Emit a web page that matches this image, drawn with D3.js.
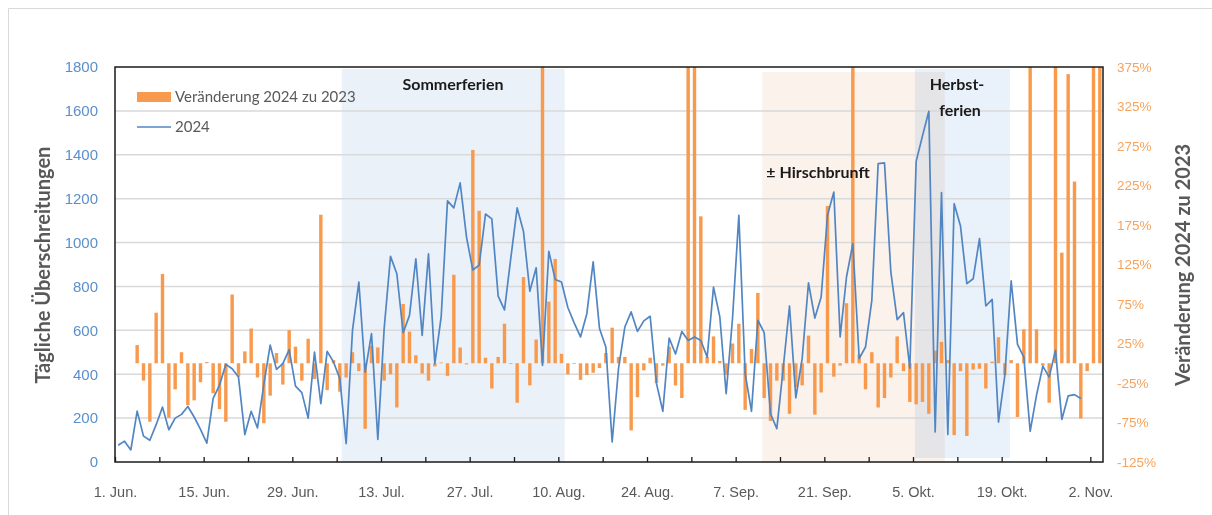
<!DOCTYPE html>
<html>
<head>
<meta charset="utf-8">
<script src="https://cdn.jsdelivr.net/npm/d3@7"></script>
<style>
  body { margin: 0; background: #fff; }
  svg { font-family: Lato, "Open Sans", "Liberation Sans", sans-serif; }
</style>
</head>
<body>
<svg id="chart" width="1212" height="515"></svg>
<script>
// daily values, 1 Jun 2024 onwards (one entry per day)
const startDay = new Date(2024, 5, 1);
const count2024 = [76, 95, 55, 232, 118, 99, 170, 250, 147, 200, 217, 253, 205, 149, 86, 290, 350, 445, 425, 387,
  125, 231, 155, 354, 533, 422, 448, 512, 346, 316, 200, 501, 266, 504, 456, 380, 84, 600, 820, 410,
  585, 103, 608, 937, 858, 589, 668, 926, 577, 949, 448, 661, 1190, 1158, 1272, 1025, 875, 897, 1130, 1108,
  756, 693, 930, 1158, 1050, 778, 885, 440, 960, 832, 820, 704, 634, 570, 676, 912, 608, 524, 91, 425,
  615, 684, 595, 643, 664, 357, 231, 565, 492, 595, 554, 570, 554, 478, 797, 661, 311, 653, 1124, 403,
  231, 646, 590, 220, 152, 425, 711, 292, 471, 816, 656, 752, 1124, 1230, 570, 843, 995, 471, 524, 737,
  1360, 1363, 866, 649, 681, 428, 1370, 1486, 1598, 137, 1228, 125, 1177, 1075, 813, 835, 1018, 711, 741, 182,
  395, 825, 536, 478, 140, 304, 437, 387, 509, 194, 301, 307, 289, null, null, null];

// change 2024 vs 2023 in percent
const change = [null, null, null, 23, -22, -74, 64, 113, -69, -33, 14, -53, -47, -24, 1.5, -38, -58, -74, 87, -17,
  15, 44, -18, -76, -41, 13, -27, 42, 21, -22, 31, -20, 188, -34, 4, -36, -18, 14, -10, -83,
  22, 20, -22, -14, -56, 75, 40, 10, -13, -22, -4, 1, -16, 112, 20, -1.5, 270, 193, 7, -32,
  8, 50, -1, -50, 109, -28, 30, 450, 78, 132, 12, -14, -1, -21, -15, -12, -6, 13, 45, 8,
  8, -85, -43, -9, 7, -25, -3, 21, -28, -44, 500, 480, 186, 8, 34, 3, -15, 25, 50, -59,
  18, 89, -44, -73, -22, -22, -64, -30, -28, 35, -65, -37, 199, -17, -3, 76, 420, 11, -33, 14,
  -56, -44, -18, 34, -10, -49, -52, -49, -64, 16, 27, 4, -91, -10, -92, -8, -7, -32, 2, 33,
  -15, 4, -68, 43, 600, 43, -3, -50, 500, 140, 366, 230, -70, -10, 450, 550];

const leftTicks = [0, 200, 400, 600, 800, 1000, 1200, 1400, 1600, 1800];
const rightTicks = [-125, -75, -25, 25, 75, 125, 175, 225, 275, 325, 375];
const monthNames = ["Jan.", "Feb.", "Mär.", "Apr.", "Mai", "Jun.", "Jul.", "Aug.", "Sep.", "Okt.", "Nov.", "Dez."];

// shaded periods: [start day, end day) as day offsets from 1 Jun
const periods = [
  {name: "Sommerferien", from: 35.8, to: 71.0, color: "#eaf1f9"},
  {name: "Hirschbrunft", from: 102.2, to: 131.0, color: "#fbf2ec"},
  {name: "Herbstferien", from: 126.3, to: 141.3, color: "#e9f1fa"}
];

const days = d3.timeDay.range(startDay, d3.timeDay.offset(startDay, count2024.length));
const data = days.map((d, i) => ({date: d, v: count2024[i], p: change[i]}));

const margin = {left: 115, right: 109, top: 67, bottom: 53};
const W = 1212, H = 515;
const svg = d3.select("#chart");

// chart area border (left and top edge visible)
svg.append("path").attr("d", `M8.5,${H}V8.5H${W}`)
  .attr("fill", "none").attr("stroke", "#d9d9d9");

const x = d3.scaleTime()
  .domain([startDay, d3.timeDay.offset(startDay, days.length)])
  .range([margin.left, W - margin.right]);
const dayW = x(d3.timeDay.offset(startDay, 1)) - x(startDay);
const cx = d => x(d) + dayW / 2;
const dayX = n => x(startDay) + n * dayW;

const yL = d3.scaleLinear().domain([0, 1800]).range([H - margin.bottom, margin.top]);
const yR = d3.scaleLinear().domain([-125, 375]).range([H - margin.bottom, margin.top]);

svg.append("clipPath").attr("id", "plotclip").append("rect")
  .attr("x", margin.left).attr("y", margin.top)
  .attr("width", W - margin.left - margin.right).attr("height", H - margin.top - margin.bottom);

// shaded periods
const shade = svg.append("g");
periods.forEach((p, i) => {
  const top = i === 1 ? 72 : 69;
  const bottom = i === 2 ? 458 : H - margin.bottom;
  shade.append("rect")
    .attr("x", dayX(p.from)).attr("width", dayX(p.to) - dayX(p.from))
    .attr("y", top).attr("height", bottom - top)
    .attr("fill", p.color)
    .style("mix-blend-mode", "multiply");
});

// gridlines
svg.append("g").selectAll("line").data(leftTicks.slice(1, -1)).join("line")
  .attr("x1", margin.left).attr("x2", W - margin.right)
  .attr("y1", d => yL(d)).attr("y2", d => yL(d))
  .attr("stroke", "#d9d9d9").attr("stroke-width", 1.5);

// bars
svg.append("g").attr("clip-path", "url(#plotclip)")
  .selectAll("rect").data(data.filter(d => d.p !== null)).join("rect")
  .attr("x", d => cx(d.date) - dayW * 0.27)
  .attr("width", dayW * 0.54)
  .attr("y", d => Math.min(yR(d.p), yR(0)))
  .attr("height", d => Math.abs(yR(d.p) - yR(0)))
  .attr("fill", "#f79a4e");

// line
const line = d3.line()
  .defined(d => d.v !== null)
  .x(d => cx(d.date))
  .y(d => yL(d.v));
svg.append("path").datum(data)
  .attr("d", line)
  .attr("fill", "none")
  .attr("stroke", "#5286c3")
  .attr("stroke-width", 1.7)
  .attr("stroke-linejoin", "round");

// plot frame
svg.append("rect")
  .attr("x", margin.left).attr("y", margin.top)
  .attr("width", W - margin.left - margin.right).attr("height", H - margin.top - margin.bottom)
  .attr("fill", "none").attr("stroke", "#1a1a1a").attr("stroke-width", 1.5);

// x axis
const xAxis = d3.axisBottom(x)
  .tickValues(d3.timeDay.range(startDay, d3.timeDay.offset(startDay, days.length), 7))
  .tickSize(-5)
  .tickFormat((d, i) => i % 2 === 0 ? d.getDate() + ". " + monthNames[d.getMonth()] : "");
const gx = svg.append("g").attr("transform", `translate(0,${H - margin.bottom})`).call(xAxis);
gx.select(".domain").remove();
gx.selectAll(".tick line").attr("stroke", "#1a1a1a").attr("stroke-width", 1.3);
gx.selectAll(".tick text").attr("y", 25).attr("fill", "#595959").style("font-size", "14.5px");

// left axis
const gl = svg.append("g").attr("transform", `translate(${margin.left},0)`)
  .call(d3.axisLeft(yL).tickValues(leftTicks).tickSize(0).tickPadding(17).tickFormat(d3.format("d")));
gl.select(".domain").remove();
gl.selectAll(".tick text").attr("fill", "#5a8fcb").style("font-size", "15px");

// right axis
const gr = svg.append("g").attr("transform", `translate(${W - margin.right},0)`)
  .call(d3.axisRight(yR).tickValues(rightTicks).tickSize(0).tickPadding(14).tickFormat(d => d + "%"));
gr.select(".domain").remove();
gr.selectAll(".tick text").attr("fill", "#f7a35c").style("font-size", "13.5px");

// axis titles
svg.append("text")
  .attr("transform", `translate(50,265) rotate(-90)`)
  .attr("text-anchor", "middle")
  .attr("fill", "#595959").style("font-size", "20px").style("font-weight", "bold")
  .text("Tägliche Überschreitungen");
svg.append("text")
  .attr("transform", `translate(1190,265) rotate(-90)`)
  .attr("text-anchor", "middle")
  .attr("fill", "#595959").style("font-size", "20px").style("font-weight", "bold")
  .text("Veränderung 2024 zu 2023");

// period labels
const lab = svg.append("g").attr("fill", "#1a1a1a").style("font-size", "16px").style("font-weight", "bold")
  .attr("text-anchor", "middle");
lab.append("text").attr("x", 453).attr("y", 90).text("Sommerferien");
lab.append("text").attr("x", 818).attr("y", 178).text("± Hirschbrunft");
lab.append("text").attr("x", 957).attr("y", 90).text("Herbst-");
lab.append("text").attr("x", 960).attr("y", 116).text("ferien");

// legend
const lg = svg.append("g");
lg.append("rect").attr("x", 137).attr("y", 92).attr("width", 34).attr("height", 10).attr("fill", "#f79a4e");
lg.append("text").attr("x", 175).attr("y", 102).attr("fill", "#595959").style("font-size", "15px")
  .text("Veränderung 2024 zu 2023");
lg.append("line").attr("x1", 137).attr("x2", 171).attr("y1", 127).attr("y2", 127)
  .attr("stroke", "#5286c3").attr("stroke-width", 1.7);
lg.append("text").attr("x", 175).attr("y", 132).attr("fill", "#595959").style("font-size", "15px")
  .text("2024");
</script>
</body>
</html>
